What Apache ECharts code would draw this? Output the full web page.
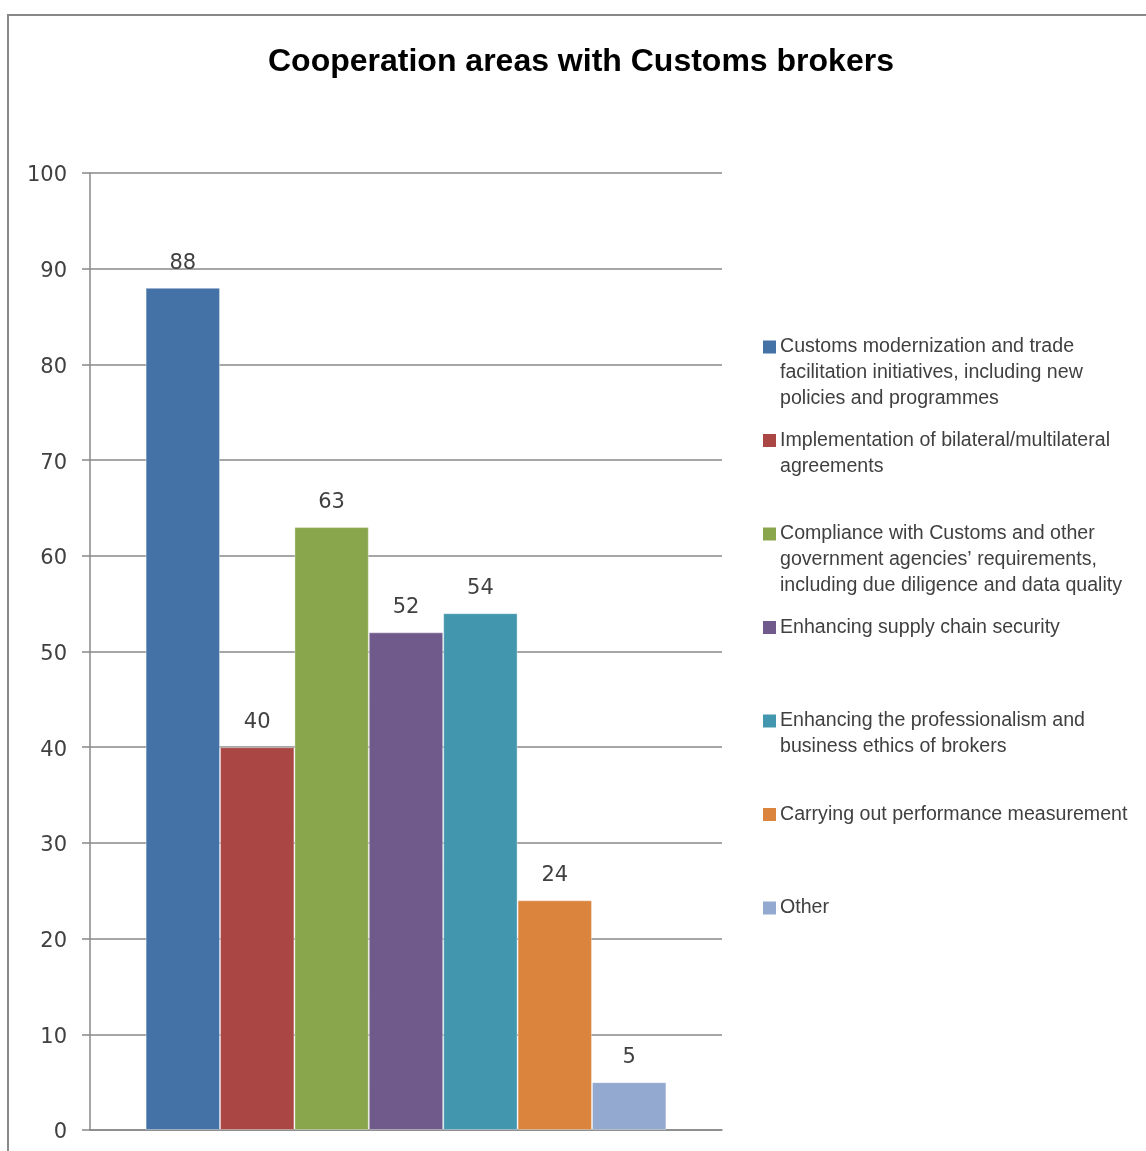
<!DOCTYPE html>
<html>
<head>
<meta charset="utf-8">
<script src="https://cdn.jsdelivr.net/npm/echarts@6/dist/echarts.min.js"></script>
<style>
html,body{margin:0;padding:0;background:#fff;}
#chart{width:1146px;height:1151px;}
</style>
</head>
<body>
<div id="chart"></div>
<script>
const titleText = 'Cooperation areas with Customs brokers';
const categories = [''];
const seriesNames = [
  'Customs modernization and trade facilitation initiatives, including new policies and programmes',
  'Implementation of bilateral/multilateral agreements',
  'Compliance with Customs and other government agencies\u2019 requirements, including due diligence and data quality',
  'Enhancing supply chain security',
  'Enhancing the professionalism and business ethics of brokers',
  'Carrying out performance measurement',
  'Other'
];
const legendLines = [
  ['Customs modernization and trade', 'facilitation initiatives, including new', 'policies and programmes'],
  ['Implementation of bilateral/multilateral', 'agreements'],
  ['Compliance with Customs and other', 'government agencies\u2019 requirements,', 'including due diligence and data quality'],
  ['Enhancing supply chain security'],
  ['Enhancing the professionalism and', 'business ethics of brokers'],
  ['Carrying out performance measurement'],
  ['Other']
];
const values = [88, 40, 63, 52, 54, 24, 5];
const colors = ['#4472a6', '#aa4643', '#8aa64c', '#705a8c', '#4297ae', '#db843d', '#94a9cf'];
const yTicks = [0, 10, 20, 30, 40, 50, 60, 70, 80, 90, 100];

const FONT = '"Liberation Sans", Arial, sans-serif';
const NUMFONT = '"DejaVu Sans", sans-serif';
const chart = echarts.init(document.getElementById('chart'), null, {renderer: 'canvas'});

const legends = seriesNames.map((name, i) => ({
  show: true,
  orient: 'vertical',
  left: 762,
  top: 334 + i * 93.5,
  itemWidth: 0,
  itemHeight: 0,
  icon: 'rect',
  itemStyle: {opacity: 0},
  padding: 0,
  itemGap: 0,
  data: [name],
  formatter: () => legendLines[i].map((l, k) => k === 0 ? '{sq|}{t|' + l + '}' : '{t2|' + l + '}').join('\n'),
  textStyle: {
    fontFamily: FONT, fontSize: 19.6, color: '#404040', lineHeight: 26, padding: [0, 0, 0, -5],
    rich: {
      sq: {width: 13, height: 13, backgroundColor: colors[i], verticalAlign: 'middle'},
      t: {fontFamily: FONT, fontSize: 19.6, color: '#404040', lineHeight: 26, padding: [0, 0, 0, 4]},
      t2: {fontFamily: FONT, fontSize: 19.6, color: '#404040', lineHeight: 26, padding: [0, 0, 0, 17]}
    }
  }
}));

const option = {
  backgroundColor: '#fff',
  animation: false,
  color: colors,
  title: {
    text: titleText,
    left: 268,
    top: 46,
    padding: 0,
    textStyle: {fontFamily: FONT, fontSize: 32, fontWeight: 'bold', color: '#000'}
  },
  graphic: [{
    type: 'rect',
    shape: {x: 8, y: 15, width: 1400, height: 1400},
    style: {fill: 'none', stroke: '#888', lineWidth: 2},
    silent: true,
    z: 100
  }],
  legend: legends,
  grid: {left: 90, top: 173, width: 632, height: 957, containLabel: false},
  xAxis: {
    type: 'category',
    data: categories,
    axisLine: {show: true, lineStyle: {color: '#888', width: 1.5}},
    axisTick: {show: false},
    axisLabel: {show: false},
    splitLine: {show: false}
  },
  yAxis: {
    type: 'value',
    min: yTicks[0],
    max: yTicks[yTicks.length - 1],
    interval: 10,
    axisLine: {show: true, lineStyle: {color: '#888', width: 1.5}},
    axisTick: {show: true, length: 8, lineStyle: {color: '#888', width: 1.5}},
    axisLabel: {
      margin: 23,
      formatter: v => '{n|' + v + '}',
      rich: {n: {fontFamily: NUMFONT, fontSize: 21, color: '#404040', padding: [6, 0, 0, 0]}}
    },
    splitLine: {show: true, lineStyle: {color: '#888', width: 1.5}}
  },
  series: seriesNames.map((name, i) => ({
    name: name,
    type: 'bar',
    data: [values[i]],
    barGap: '0%',
    barCategoryGap: '17.6%',
    itemStyle: {color: colors[i], borderColor: 'rgba(255,255,255,0.35)', borderWidth: 1},
    label: {show: true, position: 'top', distance: 14, fontFamily: NUMFONT, fontSize: 21, color: '#404040'}
  }))
};
chart.setOption(option);
</script>
</body>
</html>
